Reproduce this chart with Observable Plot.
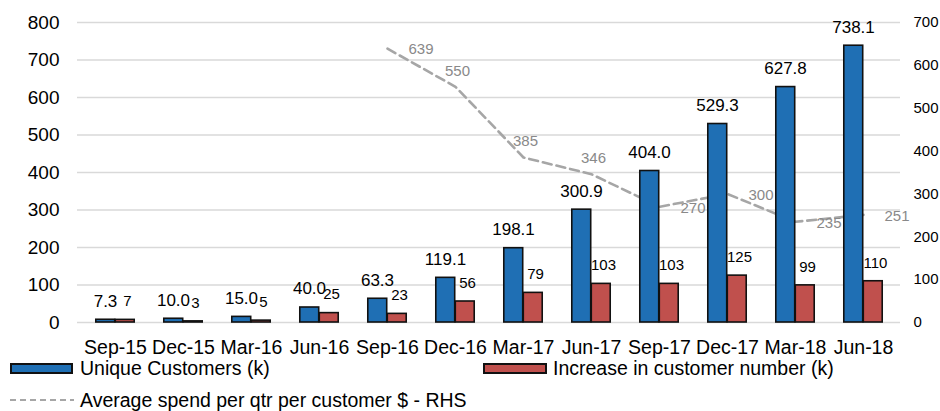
<!DOCTYPE html>
<html>
<head>
<meta charset="utf-8">
<script src="https://cdn.jsdelivr.net/npm/d3@7"></script>
<script src="https://cdn.jsdelivr.net/npm/@observablehq/plot@0.6"></script>
<style>
  html, body { margin: 0; padding: 0; background: #fff; }
  body { width: 940px; height: 411px; position: relative; overflow: hidden; font-family: "Liberation Sans", Arial, sans-serif; }
  #chart svg { display: block; }
  .leg { position: absolute; font-size: 19.5px; color: #000; line-height: 1; white-space: nowrap; }
  .sw { position: absolute; box-sizing: border-box; border: 2px solid #111; }
</style>
</head>
<body>
<div id="chart"></div>
<div class="sw" style="left:10px;top:363px;width:63px;height:11px;background:#1f6fb4"></div>
<div class="leg" style="left:80px;top:359px">Unique Customers (k)</div>
<div class="sw" style="left:483px;top:363px;width:64px;height:11px;background:#c0504d"></div>
<div class="leg" style="left:553px;top:359px">Increase in customer number (k)</div>
<svg style="position:absolute;left:8px;top:394px" width="70" height="12"><line x1="2" x2="66" y1="6" y2="6" stroke="#a6a6a6" stroke-width="2.2" stroke-dasharray="6,4"/></svg>
<div class="leg" style="left:80px;top:391px">Average spend per qtr per customer $ - RHS</div>
<script>
const quarters = ["Sep-15","Dec-15","Mar-16","Jun-16","Sep-16","Dec-16","Mar-17","Jun-17","Sep-17","Dec-17","Mar-18","Jun-18"];
const uniqueCustomers = [7.3, 10.0, 15.0, 40.0, 63.3, 119.1, 198.1, 300.9, 404.0, 529.3, 627.8, 738.1];
const customerIncrease = [7, 3, 5, 25, 23, 56, 79, 103, 103, 125, 99, 110];
const avgSpend = [null, null, null, null, 639, 550, 385, 346, 270, 300, 235, 251];
const leftTicks = [0, 100, 200, 300, 400, 500, 600, 700, 800];
const rightTicks = [0, 100, 200, 300, 400, 500, 600, 700];

const W = 940, H = 358, mL = 77, mR = 40, mT = 22, mB = 36;
const leftMax = 800, rightMax = 700;
const toLeft = v => v * leftMax / rightMax;

const bars = quarters.map((q, i) => ({q, uc: uniqueCustomers[i], inc: customerIncrease[i]}));
const spend = quarters.map((q, i) => ({q, s: avgSpend[i], i})).filter(d => d.s != null);
const aboveIdx = new Set([5, 6, 7]);
const spendRight = spend.filter(d => !aboveIdx.has(d.i));
const spendAbove = spend.filter(d => aboveIdx.has(d.i));

const bw = (W - mL - mR) / quarters.length;
const barW = 19.5;
const blueInsetL = bw / 2 - barW, blueInsetR = bw / 2;
const redInsetL = bw / 2, redInsetR = bw / 2 - barW;

const chart = Plot.plot({
  width: W, height: H,
  marginLeft: mL, marginRight: mR, marginTop: mT, marginBottom: mB,
  style: {fontFamily: "'Liberation Sans', Arial, sans-serif", background: "#fff", color: "#000"},
  x: {type: "band", domain: quarters, padding: 0},
  y: {domain: [0, leftMax]},
  marks: [
    Plot.gridY(leftTicks, {stroke: "#d9d9d9", strokeOpacity: 1, strokeWidth: 1.5}),
    Plot.line(spend, {x: "q", y: d => toLeft(d.s), stroke: "#a6a6a6", strokeWidth: 2.6, strokeDasharray: "9,5"}),
    Plot.barY(bars, {x: "q", y: "uc", fill: "#1f6fb4", stroke: "#111", strokeWidth: 1.6, insetLeft: blueInsetL, insetRight: blueInsetR}),
    Plot.barY(bars, {x: "q", y: "inc", fill: "#c0504d", stroke: "#111", strokeWidth: 1.6, insetLeft: redInsetL, insetRight: redInsetR}),
    Plot.text(bars, {x: "q", y: "uc", text: d => d3.format(".1f")(d.uc), dx: -10, dy: -18.5, fontSize: 17, fill: "#000", lineAnchor: "middle"}),
    Plot.text(bars, {x: "q", y: "inc", text: d => String(d.inc), dx: 12, dy: -18.5, fontSize: 15, fill: "#000", lineAnchor: "middle"}),
    Plot.text(spendRight, {x: "q", y: d => toLeft(d.s), text: d => String(d.s), dx: 21, dy: 1, textAnchor: "start", fontSize: 15, fill: "#898989", lineAnchor: "middle"}),
    Plot.text(spendAbove, {x: "q", y: d => toLeft(d.s), text: d => String(d.s), dx: 2, dy: -16, textAnchor: "middle", fontSize: 15, fill: "#898989", lineAnchor: "middle"}),
    Plot.axisX({tickSize: 0, tickPadding: 18, fontSize: 19.5, label: null}),
    Plot.axisY(leftTicks, {anchor: "left", tickSize: 0, tickPadding: 18, fontSize: 19, label: null}),
    Plot.axisY(rightTicks.map(toLeft), {anchor: "right", tickSize: 0, tickPadding: 13, fontSize: 15, label: null, tickFormat: d => String(Math.round(d * rightMax / leftMax))})
  ]
});
document.getElementById("chart").appendChild(chart);
</script>
</body>
</html>
